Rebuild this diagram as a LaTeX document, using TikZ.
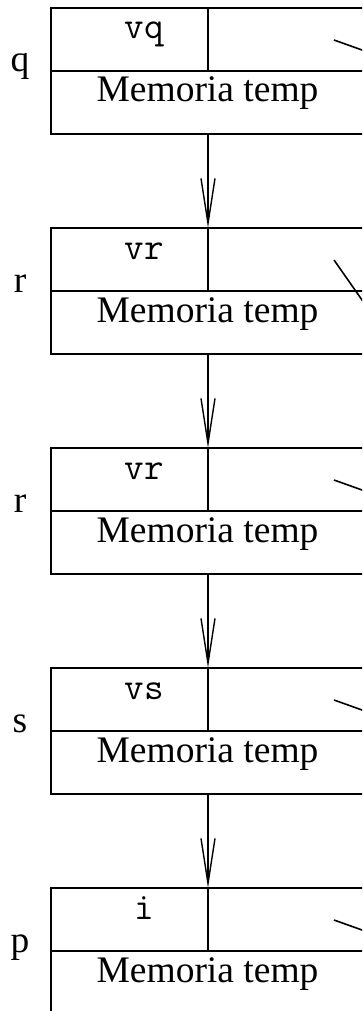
\documentclass[tikz,border=0pt]{standalone}
\usepackage{fontspec}
\setmainfont{Liberation Serif}
\usetikzlibrary{arrows.meta}
\begin{document}
\begin{tikzpicture}[x=1pt,y=1pt,
  lw/.style={line width=1.6pt},
  outer/.style={draw,lw,rectangle,inner sep=0pt,outer sep=0pt,minimum width=369pt,minimum height=126pt,anchor=north west},
  txt/.style={inner sep=0pt,anchor=base,font=\fontsize{37.5}{40}\selectfont},
  var/.style={txt,font=\fontsize{38}{40}\selectfont\ttfamily},
  arr/.style={line width=1.4pt,-{Straight Barb[length=45pt,width=14pt,line width=1.4pt]}}]
\useasboundingbox (0,0) rectangle (362,-1011);
\clip (0,0) rectangle (362,-1011);
\foreach \T/\lab/\v/\i/\dy in {8/q/vq/1/10, 228/r/vr/2/40, 448/r/vr/3/10, 668/s/vs/4/10, 888/p/i/5/10}{
  \node[outer] (b\i) at (51,-\T) {};
  \coordinate (d\i) at (208,-\T);
  \coordinate (m\i) at (51,-\T-63);
  \draw[lw] (m\i) -- ++(369,0);
  \draw[lw] (d\i) -- (d\i |- m\i);
  \node[var] (v\i) at (144,-\T-31) {\v};
  \node[txt] (mt\i) at (207.5,-\T-94) {Memoria temp};
  \node[txt] (l\i) at (20,-\T-64) {\lab};
  \coordinate (p\i) at (334,-\T-32);
  \draw[lw] (p\i) -- ++(56,-2*\dy);
}
\foreach \i/\j in {1/2,2/3,3/4,4/5}{
  \draw[arr] (d\i |- b\i.south) -- (d\j);
}
\end{tikzpicture}
\end{document}
